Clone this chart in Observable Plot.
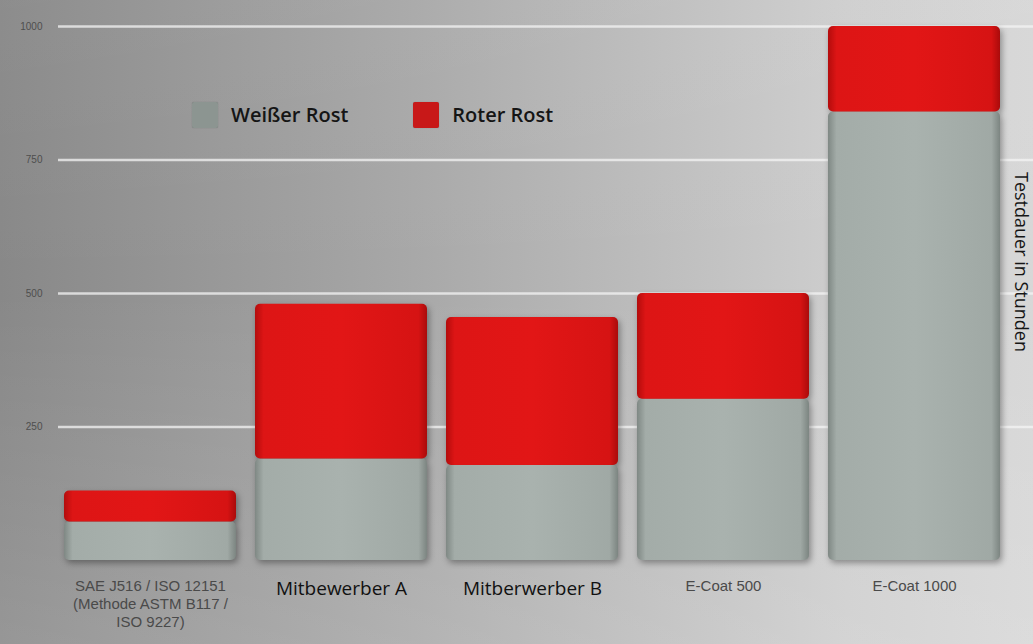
<!DOCTYPE html>
<html>
<head>
<meta charset="utf-8">
<script src="https://cdn.jsdelivr.net/npm/d3@7"></script>
<script src="https://cdn.jsdelivr.net/npm/@observablehq/plot@0.6"></script>
<style>
  html, body { margin: 0; padding: 0; }
  #wrap {
    position: relative; width: 1033px; height: 644px; overflow: hidden;
    background:
      linear-gradient(180deg, rgba(255,255,255,0.04) 0%, rgba(255,255,255,0) 45%, rgba(255,255,255,0.12) 100%),
      linear-gradient(90deg, #888888 0%, #969696 18%, #a8a8a8 40%, #bcbcbc 62%, #cecece 82%, #d7d7d7 100%);
  }
  #legend { position: absolute; left: 192px; top: 101px; display: flex; font-family: "Open Sans", sans-serif; font-size: 20px; font-weight: 600; color: #151515; }
  #legend .item { display: flex; align-items: center; }
  #legend .sw { width: 26px; height: 26px; border-radius: 2px; margin-right: 13px; box-shadow: 0 0 1px rgba(0,0,0,0.3); }
  #ylab { position: absolute; left: 1013px; top: 172px; writing-mode: vertical-rl; line-height: 1; font-family: "Open Sans", sans-serif; font-size: 18px; color: #151515; }
</style>
</head>
<body>
<div id="wrap">
  <div id="chart"></div>
  <div id="legend"></div>
  <div id="ylab">Testdauer in Stunden</div>
</div>
<script>
const categories = [
  "SAE J516 / ISO 12151\n(Methode ASTM B117 /\nISO 9227)",
  "Mitbewerber A",
  "Mitberwerber B",
  "E-Coat 500",
  "E-Coat 1000"
];
const seriesNames = ["Weißer Rost", "Roter Rost"];
const weisserRost = [72, 190, 178, 302, 840];
const roterRost = [58, 290, 277, 198, 160];
const yTicks = [250, 500, 750, 1000];

const data = [];
categories.forEach((c, i) => {
  data.push({category: c, series: seriesNames[0], value: weisserRost[i]});
  data.push({category: c, series: seriesNames[1], value: roterRost[i]});
});

const chart = Plot.plot({
  width: 1033,
  height: 644,
  marginLeft: 42,
  marginRight: 12,
  marginTop: 26,
  marginBottom: 84,
  style: {background: "transparent", overflow: "visible"},
  x: {domain: categories, padding: 0.1, label: null},
  y: {domain: [0, 1000], label: null},
  color: {domain: seriesNames, range: ["url(#gW)", "url(#gR)"]},
  marks: [
    Plot.gridY(yTicks, {stroke: "#f4f4f4", strokeOpacity: 0.75, strokeWidth: 2.5, insetLeft: 16, insetRight: -12}),
    Plot.axisY(yTicks, {tickSize: 0, tickPadding: 0, fontSize: 10, fill: "#4e4e4e", label: null, tickFormat: d => String(d), fontFamily: "Liberation Sans, Arial, sans-serif"}),
    Plot.barY(data, {x: "category", y: "value", fill: "series", order: seriesNames, rx: 5}),
    Plot.axisX({tickSize: 0, tickPadding: 18, fontSize: 15, label: null, lineHeight: 1.2, fontFamily: "Liberation Sans, Arial, sans-serif", fill: "#4a4a4a"})
  ]
});

// gradients for bar shading
const ns = "http://www.w3.org/2000/svg";
const defs = document.createElementNS(ns, "defs");
function grad(id, stops) {
  const g = document.createElementNS(ns, "linearGradient");
  g.setAttribute("id", id);
  g.setAttribute("x1", "0"); g.setAttribute("x2", "1"); g.setAttribute("y1", "0"); g.setAttribute("y2", "0");
  stops.forEach(([o, c]) => {
    const s = document.createElementNS(ns, "stop");
    s.setAttribute("offset", o); s.setAttribute("stop-color", c);
    g.appendChild(s);
  });
  defs.appendChild(g);
}
grad("gW", [["0", "#7f8884"], ["0.05", "#a3aca8"], ["0.5", "#a9b2ae"], ["0.95", "#a0a9a5"], ["1", "#7c8581"]]);
grad("gR", [["0", "#b30c0c"], ["0.05", "#dd1515"], ["0.5", "#e21616"], ["0.95", "#d61313"], ["1", "#aa0b0b"]]);
chart.insertBefore(defs, chart.firstChild);

// style x tick labels
const labelStyles = [
  {font: "Liberation Sans, Arial, sans-serif", size: 15, fill: "#4a4a4a"},
  {font: "Open Sans, sans-serif", size: 19, fill: "#111"},
  {font: "Open Sans, sans-serif", size: 19, fill: "#111"},
  {font: "Liberation Sans, Arial, sans-serif", size: 15, fill: "#4a4a4a"},
  {font: "Liberation Sans, Arial, sans-serif", size: 15, fill: "#4a4a4a"}
];
const xl = chart.querySelectorAll('g[aria-label="x-axis tick label"] text');
xl.forEach((t, i) => {
  const s = labelStyles[i];
  if (!s) return;
  t.style.fontFamily = s.font;
  t.style.fontSize = s.size + "px";
  t.setAttribute("fill", s.fill);
});

// bar shadow
const bars = chart.querySelector('g[aria-label="bar"]');
if (bars) bars.style.filter = "drop-shadow(2px 3px 3px rgba(0,0,0,0.35))";

document.getElementById("chart").appendChild(chart);

const legend = document.getElementById("legend");
seriesNames.forEach((n, i) => {
  const it = document.createElement("div");
  it.className = "item";
  it.style.marginRight = i === 0 ? "65px" : "0";
  const sw = document.createElement("div");
  sw.className = "sw";
  sw.style.background = i === 0 ? "#8c9591" : "#c81818";
  const tx = document.createElement("span");
  tx.textContent = n;
  it.appendChild(sw); it.appendChild(tx);
  legend.appendChild(it);
});
</script>
</body>
</html>
